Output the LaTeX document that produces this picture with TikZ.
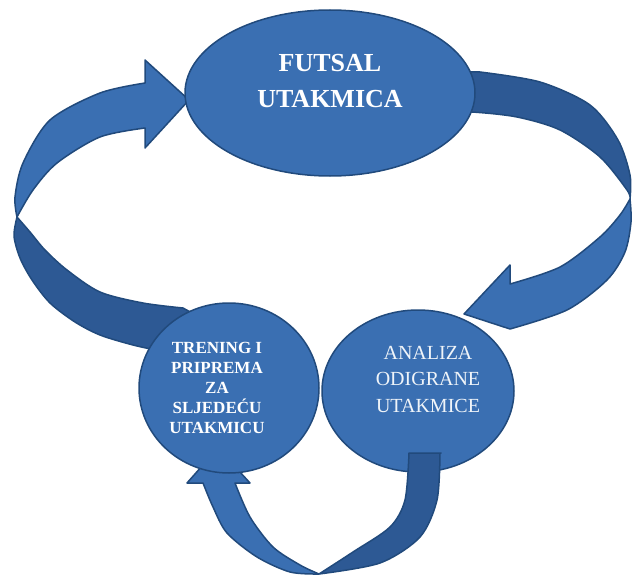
\documentclass[tikz,border=0pt]{standalone}
\usepackage{fontspec}
\setmainfont{Liberation Serif}
\usepackage{tikz}
\usetikzlibrary{shapes.geometric}
\usetikzlibrary{positioning}
\usetikzlibrary{calc}
\definecolor{plava}{RGB}{58,111,178}
\definecolor{tamna}{RGB}{45,89,148}
\definecolor{rub}{RGB}{33,74,124}
\tikzset{
  elip/.style = {ellipse, draw=rub, fill=plava, line width=1.5pt,
    inner sep=0pt},% elipsa
  traka_p/.style = {draw=rub, fill=plava, line width=1.5pt,
    line join=round},% traka, prednja strana
  traka_z/.style = {draw=rub, fill=tamna, line width=1.5pt,
    line join=round},% traka, zadnja strana
  natpis/.style = {align=center, inner sep=0pt, white, text centered}
}
\begin{document}
\begin{tikzpicture}[x=1pt,y=-1pt]
\useasboundingbox (0,0) rectangle (632,578);
% lijeva strelica
\path[traka_z] plot[smooth] coordinates {(17,217) (14,236) (20,258) (32,280)
  (50,303) (75,322) (100,335) (133,345) (165,352)}
  -- (205,320)
  -- plot[smooth] coordinates {(183,308) (143,303) (100,292) (67,270)
  (45,250) (30,232) (17,217)} -- cycle;
\path[traka_p] plot[smooth] coordinates {(17,217) (15,197) (23,163) (50,120)
  (100,93) (145,83)}
  -- (145,60) -- (189,100) -- (145,148)
  -- plot[smooth] coordinates {(145,128) (100,137) (57,163) (33,190)
  (17,217)} -- cycle;
% desna strelica
\path[traka_z] plot[smooth] coordinates {(630,199) (627,190) (600,157)
  (560,130) (517,117) (472,112) (440,112)}
  -- (440,72)
  -- plot[smooth] coordinates {(480,72) (540,82) (590,105) (618,140)
  (630,175) (630,199)} -- cycle;
\path[traka_p] plot[smooth] coordinates {(630,199) (631,222) (625,252)
  (607,280) (567,310) (510,329)}
  -- (464,314) -- (510,265)
  -- plot[smooth] coordinates {(510,284) (560,267) (600,237) (620,215)
  (630,199)} -- cycle;
\node[elip, minimum width=290pt, minimum height=166pt] (futsal) at (330,93) {};
\node[elip, minimum width=192pt, minimum height=162pt] (analiza) at (418,391) {};
% donja strelica
\path[traka_z] plot[smooth] coordinates {(319,574) (353,552) (390,527)
  (405,500) (409,453)}
  -- (441,453)
  -- plot[smooth] coordinates {(440,453) (437,500) (420,537) (380,563)
  (319,574)} -- cycle;
\path[traka_p] plot[smooth] coordinates {(319,574) (290,572) (257,557)
  (227,533) (213,507) (203,483)}
  -- (187,483) -- (218,448) -- (250,483)
  -- plot[smooth] coordinates {(235,483) (250,517) (273,547) (300,565)
  (319,574)} -- cycle;
\node[elip, minimum width=180pt, minimum height=170pt] (trening) at (229,388) {};
% natpisi
\node[natpis, font=\fontsize{26}{36}\selectfont\bfseries] at (futsal)
  [yshift=12pt] {FUTSAL\\UTAKMICA};
\node[natpis, font=\fontsize{17}{20}\selectfont\bfseries] at (trening)
  [xshift=-12pt,yshift=0pt] {TRENING I\\PRIPREMA\\ZA\\SLJEDEĆU\\UTAKMICU};
\node[natpis, text=white!92!plava, font=\fontsize{20}{26.5}\selectfont] at (analiza)
  [xshift=10pt,yshift=12pt] {ANALIZA\\ODIGRANE\\UTAKMICE};
\end{tikzpicture}
\end{document}
